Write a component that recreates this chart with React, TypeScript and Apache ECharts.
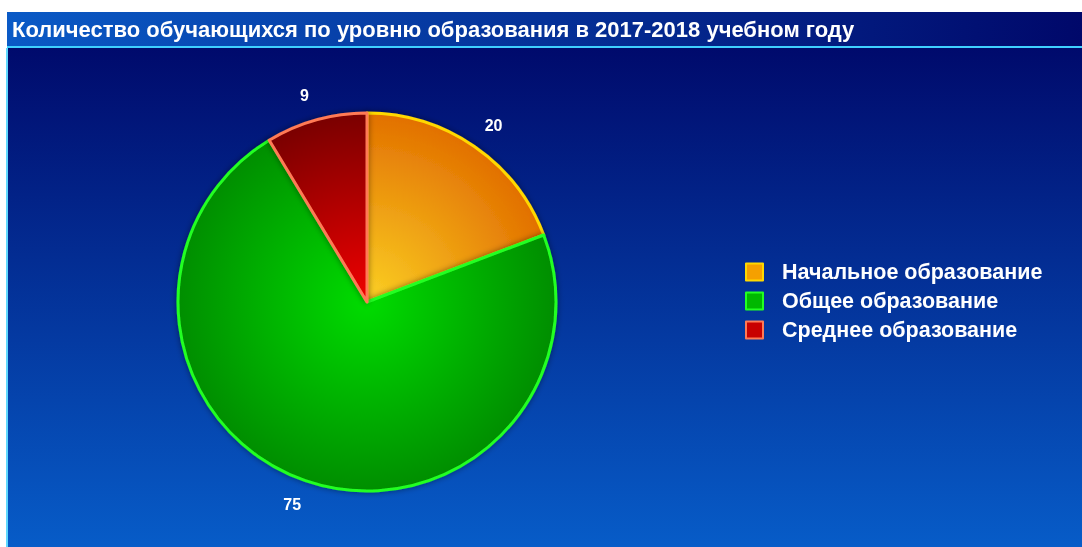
import React, { useEffect, useRef } from "react";
import * as echarts from "echarts";

const titleText = "Количество обучающихся по уровню образования в 2017-2018 учебном году";
const categories = ["Начальное образование", "Общее образование", "Среднее образование"];
const values = [20, 75, 9];
const innerColors = ["#fbd024", "#00dc00", "#f00000"];
const outerColors = ["#e27000", "#008e00", "#7a0000"];
const borderColors = ["#ffd800", "#22ff22", "#ff7a55"];
const legendColors = ["#f5a000", "#00b800", "#c80000"];

const CX = 367;
const CY = 302;
const R = 189;

export default function App() {
  const ref = useRef<HTMLDivElement>(null);
  useEffect(() => {
    if (!ref.current) return;
    const chart = echarts.init(ref.current, undefined, { renderer: "svg" });
    const data = values.map((v, i) => ({
      name: categories[i],
      value: v,
      itemStyle: {
        color: {
          type: "radial",
          x: CX,
          y: CY,
          r: R,
          global: true,
          colorStops: [
            { offset: 0, color: innerColors[i] },
            { offset: 1, color: outerColors[i] },
          ],
        },
        borderColor: borderColors[i],
        borderWidth: 3,
      },
    }));
    chart.setOption({
      animation: false,
      graphic: [
        { type: "rect", silent: true, z: -10, shape: { x: 0, y: 0, width: 1082, height: 547 }, style: { fill: "#ffffff" } },
        {
          type: "rect", silent: true, z: -9,
          shape: { x: 7, y: 12, width: 1075, height: 36 },
          style: {
            fill: new echarts.graphic.LinearGradient(0, 0, 1, 0, [
              { offset: 0, color: "#0a5ac6" },
              { offset: 1, color: "#00086a" },
            ]),
          },
        },
        { type: "rect", silent: true, z: -9, shape: { x: 7, y: 46, width: 1075, height: 2 }, style: { fill: "#3fd0ff" } },
        {
          type: "rect", silent: true, z: -9,
          shape: { x: 7, y: 48, width: 1075, height: 499 },
          style: {
            fill: new echarts.graphic.LinearGradient(0, 0, 0, 1, [
              { offset: 0, color: "#000a6c" },
              { offset: 1, color: "#075cc8" },
            ]),
          },
        },
        { type: "rect", silent: true, z: -8, shape: { x: 6, y: 48, width: 2, height: 499 }, style: { fill: "#5fd8ff" } },
      ],
      title: {
        text: titleText,
        left: 12,
        top: 18,
        padding: 0,
        textStyle: {
          color: "#ffffff",
          fontSize: 22,
          fontWeight: "bold",
          fontFamily: "Liberation Sans, Arial, sans-serif",
        },
      },
      legend: {
        orient: "vertical",
        left: 745,
        top: 261,
        padding: 0,
        itemWidth: 17,
        itemHeight: 17,
        itemGap: 7,
        icon: "rect",
        data: categories.map((c, i) => ({
          name: c,
          itemStyle: { color: legendColors[i], borderColor: borderColors[i], borderWidth: 2 },
        })),
        textStyle: {
          color: "#ffffff",
          fontSize: 21.5,
          fontWeight: "bold",
          fontFamily: "Liberation Sans, Arial, sans-serif",
          padding: [0, 0, 0, 14],
        },
      },
      series: [
        {
          type: "pie",
          center: [CX, CY],
          radius: R,
          startAngle: 90,
          clockwise: true,
          data,
          itemStyle: { shadowBlur: 6, shadowColor: "rgba(0,0,0,0.45)" },
          label: {
            show: true,
            position: "outside",
            formatter: "{c}",
            color: "#ffffff",
            fontSize: 16,
            fontWeight: "bold",
            fontFamily: "Liberation Sans, Arial, sans-serif",
          },
          labelLine: { show: false, length: 25, length2: 0 },
          labelLayout: (p: any) => {
            const w = p.labelRect.width;
            return { dx: p.labelRect.x > CX ? -w / 2 : w / 2 };
          },
          emphasis: { disabled: true },
        },
      ],
    });
    return () => chart.dispose();
  }, []);
  return (
    <div
      ref={ref}
      style={{ position: "fixed", left: 0, top: 0, width: 1082, height: 547 }}
    />
  );
}
